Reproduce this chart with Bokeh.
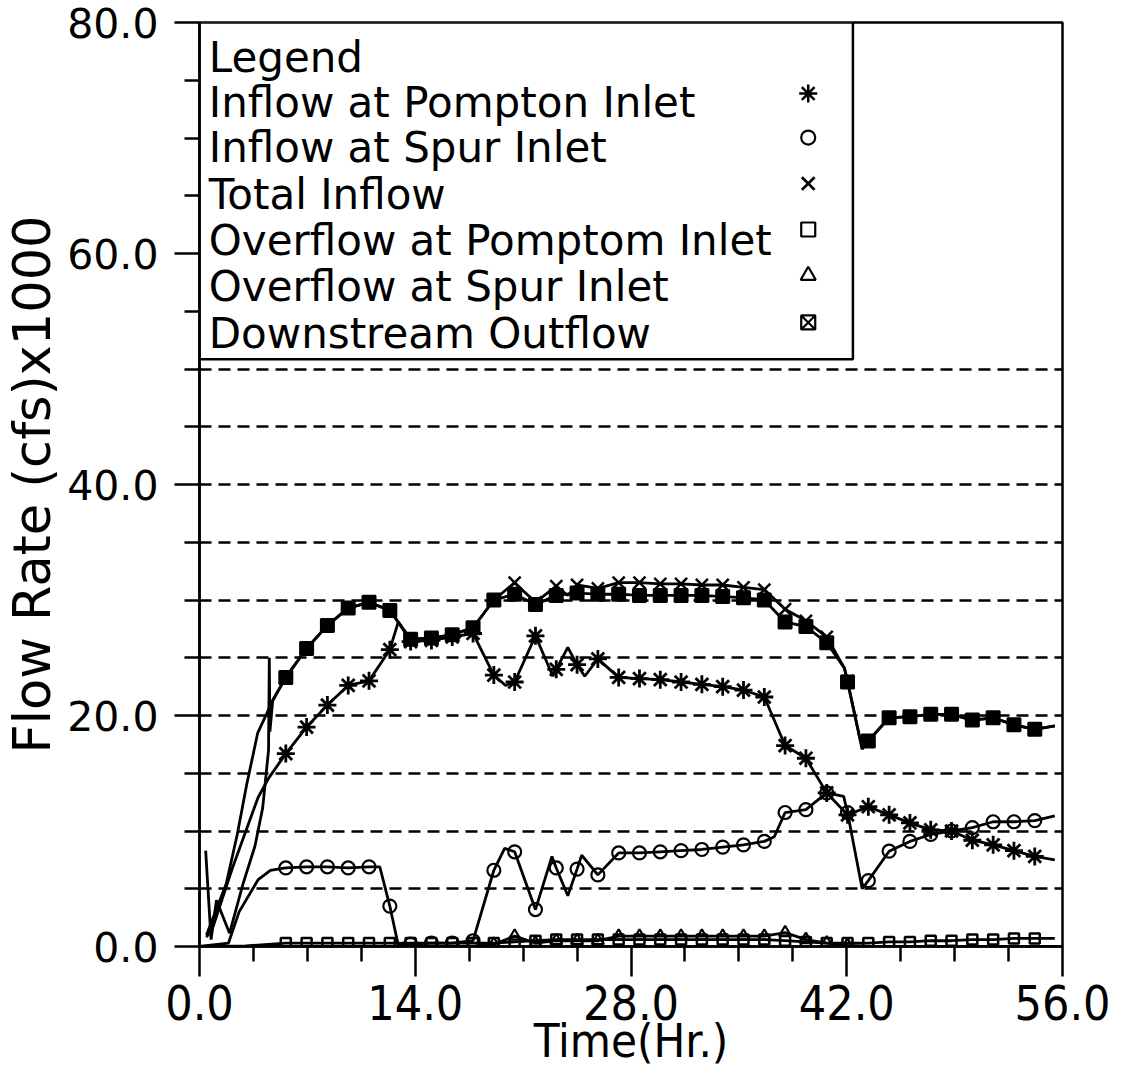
from bokeh.plotting import figure
from bokeh.models import Range1d, FixedTicker, PrintfTickFormatter
from bokeh.core.properties import value
from bokeh.embed import file_html
from bokeh.resources import INLINE

# ---- data (flow in cfs x 1000, time in hours) ----
x_major = [0, 14, 28, 42, 56]
x_minor = [3.5, 7, 10.5, 17.5, 21, 24.5, 31.5, 35, 38.5, 45.5, 49, 52.5]
y_major = [0, 20, 40, 60, 80]
y_minor = [5, 10, 15, 25, 30, 35, 45, 50, 55, 65, 70, 75]
grid_levels = [5, 10, 15, 20, 25, 30, 35, 40, 45, 50]

# times at which the symbols are plotted
marker_hours = [5.6, 6.95, 8.3, 9.65, 11.0, 12.35, 13.7, 15.05, 16.4, 17.75,
                19.1, 20.45, 21.8, 23.15, 24.5, 25.85, 27.2, 28.55, 29.9, 31.25,
                32.6, 33.95, 35.3, 36.65, 38.0, 39.35, 40.7, 42.05, 43.4, 44.75,
                46.1, 47.45, 48.8, 50.15, 51.5, 52.85, 54.2]

pompton_inflow = [16.7, 19.0, 20.9, 22.6, 23.0, 25.7, 26.4, 26.5, 26.8, 27.1,
                  23.5, 22.9, 26.9, 24.0, 24.4, 24.9, 23.3, 23.2, 23.1, 22.9,
                  22.7, 22.5, 22.2, 21.6, 17.4, 16.3, 13.3, 11.4, 12.1, 11.4,
                  10.7, 10.1, 10.0, 9.2, 8.8, 8.3, 7.8]
pompton_extra_t = [0.45, 0.9, 2.19, 3.8, 4.5, 12.9, 18.8, 19.86, 22.93, 23.9, 25.0, 55.5]
pompton_extra_v = [0.8, 1.8, 7.0, 12.9, 14.6, 28.1, 24.3, 22.6, 23.4, 25.9, 23.4, 7.5]

spur_inflow = [6.8, 6.9, 6.9, 6.8, 6.9, 3.5, 0.2, 0.3, 0.3, 0.5,
               6.6, 8.2, 3.2, 6.8, 6.7, 6.2, 8.1, 8.1, 8.2, 8.3,
               8.4, 8.6, 8.8, 9.1, 11.6, 11.85, 13.3, 11.6, 5.7, 8.25,
               9.1, 9.7, 10.0, 10.3, 10.8, 10.8, 10.9]
spur_extra_t = [0.0, 1.88, 2.57, 3.81, 4.6, 11.7, 12.9, 19.8, 22.87, 23.9, 24.8, 37.3, 41.8, 43.0, 55.5]
spur_extra_v = [0.0, 0.3, 3.0, 5.8, 6.6, 6.9, 0.1, 8.5, 7.8, 4.4, 7.9, 9.5, 13.0, 5.0, 11.3]

total_inflow = [23.3, 25.8, 27.8, 29.3, 29.8, 29.1, 26.6, 26.7, 27.0, 27.6,
                30.0, 31.5, 29.8, 31.2, 31.3, 31.0, 31.5, 31.5, 31.4, 31.4,
                31.3, 31.3, 31.1, 30.9, 29.2, 28.2, 26.8, 23.0, 17.8, 19.8,
                19.9, 20.1, 20.1, 19.6, 19.8, 19.2, 18.8]
total_extra_t = [0.45, 1.73, 2.45, 3.06, 3.78, 4.34, 4.75, 23.9, 41.85, 43.0, 55.5]
total_extra_v = [1.0, 5.4, 9.7, 14.0, 18.5, 20.1, 21.3, 30.4, 24.1, 17.1, 19.1]

overflow_pompton = [0.3, 0.3, 0.3, 0.3, 0.3, 0.3, 0.3, 0.3, 0.3, 0.3,
                    0.3, 0.4, 0.5, 0.6, 0.6, 0.6, 0.6, 0.6, 0.6, 0.6,
                    0.6, 0.6, 0.6, 0.6, 0.5, 0.4, 0.3, 0.3, 0.3, 0.4,
                    0.4, 0.5, 0.5, 0.6, 0.6, 0.7, 0.7]
overflow_pompton_extra_t = [0.0, 3.0, 55.5]
overflow_pompton_extra_v = [0.0, 0.05, 0.7]

overflow_spur = [0.0, 0.0, 0.0, 0.0, 0.0, 0.0, 0.0, 0.0, 0.0, 0.0,
                 0.2, 0.9, 0.3, 0.5, 0.5, 0.5, 0.9, 0.9, 0.9, 0.9,
                 0.9, 0.9, 0.9, 0.9, 1.2, 0.6, 0.3, 0.1, 0.0, 0.0,
                 0.0, 0.0, 0.0, 0.0, 0.0, 0.0, 0.0]
overflow_spur_extra_t = [0.0, 55.5]
overflow_spur_extra_v = [0.0, 0.0]

downstream_outflow = [23.3, 25.8, 27.8, 29.3, 29.8, 29.1, 26.6, 26.7, 27.0, 27.6,
                      30.0, 30.5, 29.6, 30.4, 30.6, 30.5, 30.5, 30.4, 30.4, 30.4,
                      30.4, 30.3, 30.2, 30.0, 28.1, 27.7, 26.3, 22.9, 17.8, 19.8,
                      19.9, 20.1, 20.1, 19.6, 19.8, 19.2, 18.8]
downstream_extra_t = [0.4, 0.75, 1.1, 1.95, 2.82, 3.6, 4.1, 4.48, 4.53, 4.57, 4.75, 41.85, 43.0, 55.5]
downstream_extra_v = [8.3, 0.6, 4.0, 1.15, 5.4, 8.7, 12.0, 17.0, 25.0, 18.6, 21.3, 24.1, 17.1, 19.1]

legend_title = "Legend"
legend_labels = ["Inflow at Pompton Inlet", "Inflow at Spur Inlet", "Total Inflow",
                 "Overflow at Pomptom Inlet", "Overflow at Spur Inlet", "Downstream Outflow"]

NARROW = "DejaVu Sans Condensed, Liberation Sans, sans-serif"


def polyline(extra_t, extra_v, vals):
    pts = sorted(list(zip(extra_t, extra_v)) + list(zip(marker_hours, vals)))
    return [q[0] for q in pts], [q[1] for q in pts]


p = figure(width=1123, height=1082, x_range=Range1d(0, 56), y_range=Range1d(0, 80),
           output_backend="svg", toolbar_location=None,
           min_border_left=199, min_border_right=61, min_border_top=22, min_border_bottom=136)
p.background_fill_color = "white"
p.border_fill_color = "white"
p.outline_line_color = "black"
p.outline_line_width = 2.5

# axes
p.xaxis.ticker = FixedTicker(ticks=x_major, minor_ticks=x_minor)
p.yaxis.ticker = FixedTicker(ticks=y_major, minor_ticks=y_minor)
for ax in (p.xaxis, p.yaxis):
    ax.formatter = PrintfTickFormatter(format="%.1f")
    ax.axis_line_width = 2.5
    ax.major_tick_line_width = 2.5
    ax.minor_tick_line_width = 2.5
    ax.major_tick_in = 0
    ax.minor_tick_in = 0
    ax.major_label_text_color = "black"
    ax.axis_label_text_color = "black"
    ax.axis_label_text_font_style = "normal"
p.xaxis.major_tick_out = 30
p.xaxis.minor_tick_out = 15
p.yaxis.major_tick_out = 25
p.yaxis.minor_tick_out = 15
p.xaxis.major_label_text_font = NARROW
p.xaxis.major_label_text_font_size = "48px"
p.xaxis.major_label_standoff = 8
p.xaxis.axis_label = "Time(Hr.)"
p.xaxis.axis_label_text_font = NARROW
p.xaxis.axis_label_text_font_size = "47px"
p.xaxis.axis_label_standoff = -10
p.yaxis.major_label_text_font = "DejaVu Sans"
p.yaxis.major_label_text_font_size = "41px"
p.yaxis.major_label_standoff = 16
p.yaxis.axis_label = "Flow Rate (cfs)x1000"
p.yaxis.axis_label_text_font = "DejaVu Sans"
p.yaxis.axis_label_text_font_size = "51px"
p.yaxis.axis_label_standoff = 2

# dashed reference lines
p.xgrid.visible = False
p.ygrid.ticker = FixedTicker(ticks=grid_levels)
p.ygrid.grid_line_color = "black"
p.ygrid.grid_line_width = 2.5
p.ygrid.grid_line_dash = "12 7"

# series lines
lw = 2.8
for ex_t, ex_v, vals in [
    (overflow_pompton_extra_t, overflow_pompton_extra_v, overflow_pompton),
    (overflow_spur_extra_t, overflow_spur_extra_v, overflow_spur),
    (spur_extra_t, spur_extra_v, spur_inflow),
    (pompton_extra_t, pompton_extra_v, pompton_inflow),
    (total_extra_t, total_extra_v, total_inflow),
    (downstream_extra_t, downstream_extra_v, downstream_outflow),
]:
    xs, ys = polyline(ex_t, ex_v, vals)
    p.line(xs, ys, line_color="black", line_width=lw)

# series symbols
p.scatter(marker_hours, overflow_pompton, marker="square", size=10,
          fill_color=None, line_color="black", line_width=2.5)
spur_over_t = [t for t, v in zip(marker_hours, overflow_spur) if v > 0.05]
spur_over_v = [v for v in overflow_spur if v > 0.05]
p.scatter(spur_over_t, spur_over_v, marker="triangle", size=12,
          fill_color=None, line_color="black", line_width=2.2)
p.scatter(marker_hours, spur_inflow, marker="circle", size=13,
          fill_color=None, line_color="black", line_width=2.2)
p.scatter(marker_hours, pompton_inflow, marker="asterisk", size=18,
          line_color="black", line_width=2.8)
p.scatter(marker_hours, total_inflow, marker="x", size=17,
          line_color="black", line_width=2.5)
p.scatter(marker_hours, downstream_outflow, marker="square_x", size=13,
          fill_color="black", line_color="black", line_width=2)

# legend box
p.quad(left=[0], right=[42.4], bottom=[50.85], top=[80],
       fill_color="white", line_color="black", line_width=2.5)
text_rows = [76.97, 73.07, 69.18, 65.11, 61.13, 57.14, 53.07]
p.text(x=[0.6] * 7, y=text_rows, text=[legend_title] + legend_labels,
       text_font=value("DejaVu Sans"), text_font_size="42px",
       text_baseline="alphabetic", text_align="left", text_color="black")
sym_rows = [73.85, 70.04, 66.06, 62.08, 58.10, 54.03]
sym_x = 39.5
p.scatter([sym_x], [sym_rows[0]], marker="asterisk", size=18, line_color="black", line_width=2.5)
p.scatter([sym_x], [sym_rows[1]], marker="circle", size=14, fill_color=None, line_color="black", line_width=2.2)
p.scatter([sym_x], [sym_rows[2]], marker="x", size=18, line_color="black", line_width=2.8)
p.scatter([sym_x], [sym_rows[3]], marker="square", size=14, fill_color=None, line_color="black", line_width=2.2)
p.scatter([sym_x], [sym_rows[4]], marker="triangle", size=15, fill_color=None, line_color="black", line_width=2.2)
p.scatter([sym_x], [sym_rows[5]], marker="square_x", size=14, fill_color=None, line_color="black", line_width=2.2)

open("out.html", "w").write(file_html(p, INLINE))
